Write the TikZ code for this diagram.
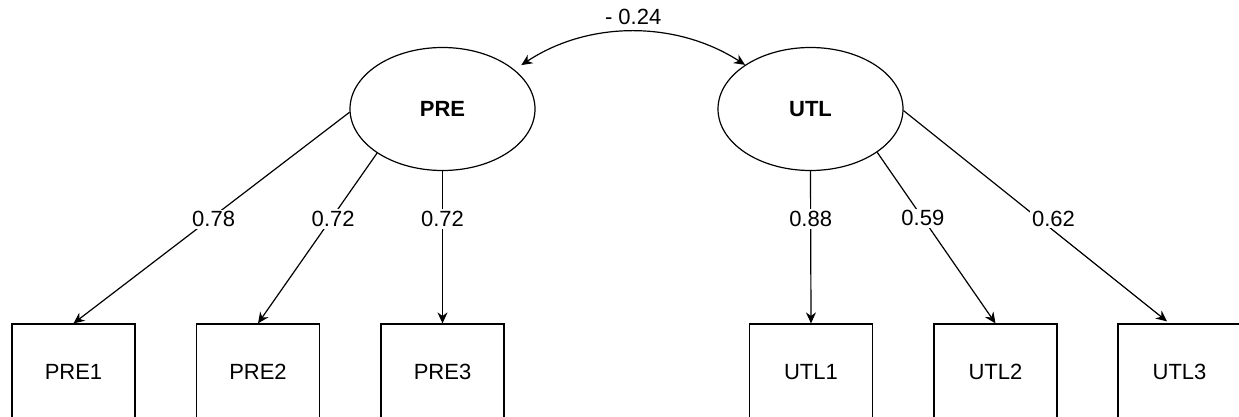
\documentclass[tikz,border=0pt]{standalone}
\usepackage{fontspec}
\setmainfont{Liberation Sans}
\usetikzlibrary{shapes.geometric,arrows.meta,calc}
\begin{document}
\begin{tikzpicture}[x=1pt,y=-1pt,
  every node/.style={font=\fontsize{22}{26}\selectfont},
  latent/.style={draw, ellipse, line width=1.2pt, minimum width=185pt, minimum height=123pt, inner sep=0pt, font=\fontsize{22}{26}\selectfont\bfseries},
  indicator/.style={draw, rectangle, line width=1.2pt, minimum width=123pt, minimum height=96pt, inner sep=0pt},
  loading/.style={line width=1.2pt, -{Stealth[length=11pt,width=10pt]}},
  covar/.style={line width=1.2pt, {Stealth[length=11pt,width=10pt]}-{Stealth[length=11pt,width=10pt]}},
  coef/.style={fill=white, inner sep=2pt}
]
\useasboundingbox (0,0) rectangle (1239,416);
\clip (0,0) rectangle (1239,416);

\node[latent] (PRE) at (442.5,109) {PRE};
\node[latent] (UTL) at (810.5,109) {UTL};

\node[indicator] (PRE1) at (73.5,372) {PRE1};
\node[indicator] (PRE2) at (258,372) {PRE2};
\node[indicator] (PRE3) at (442.5,372) {PRE3};
\node[indicator] (UTL1) at (811,372) {UTL1};
\node[indicator] (UTL2) at (995.5,372) {UTL2};
\node[indicator] (UTL3) at (1179.5,372) {UTL3};

\draw[loading] (PRE.182) -- node[coef,pos=0.507,xshift=4pt]{0.78} (PRE1.north);
\draw[loading] (PRE.214) -- node[coef,pos=0.386,xshift=2pt]{0.72} (PRE2.north);
\draw[loading] (PRE.south) -- node[coef,pos=0.316]{0.72} (PRE3.north);
\draw[loading] (UTL.south) -- node[coef,pos=0.316]{0.88} (UTL1.north);
\draw[loading] (UTL.-33.5) -- node[coef,pos=0.386]{0.59} (UTL2.north);
\coordinate (u3top) at ($(UTL3.north)+(-12.5,-2)$);
\draw[loading] (UTL.-1.5) -- node[coef,pos=0.512,xshift=15pt]{0.62} (u3top);

\coordinate (cs) at ($(PRE.north east)+(13,0)$);
\draw[covar] (cs) .. controls ($(cs)+(68,-45)$) and ($(UTL.146)+(-68,-44)$) .. node[pos=0.5,above=4pt,inner sep=2pt]{- 0.24} (UTL.146);
\end{tikzpicture}
\end{document}
